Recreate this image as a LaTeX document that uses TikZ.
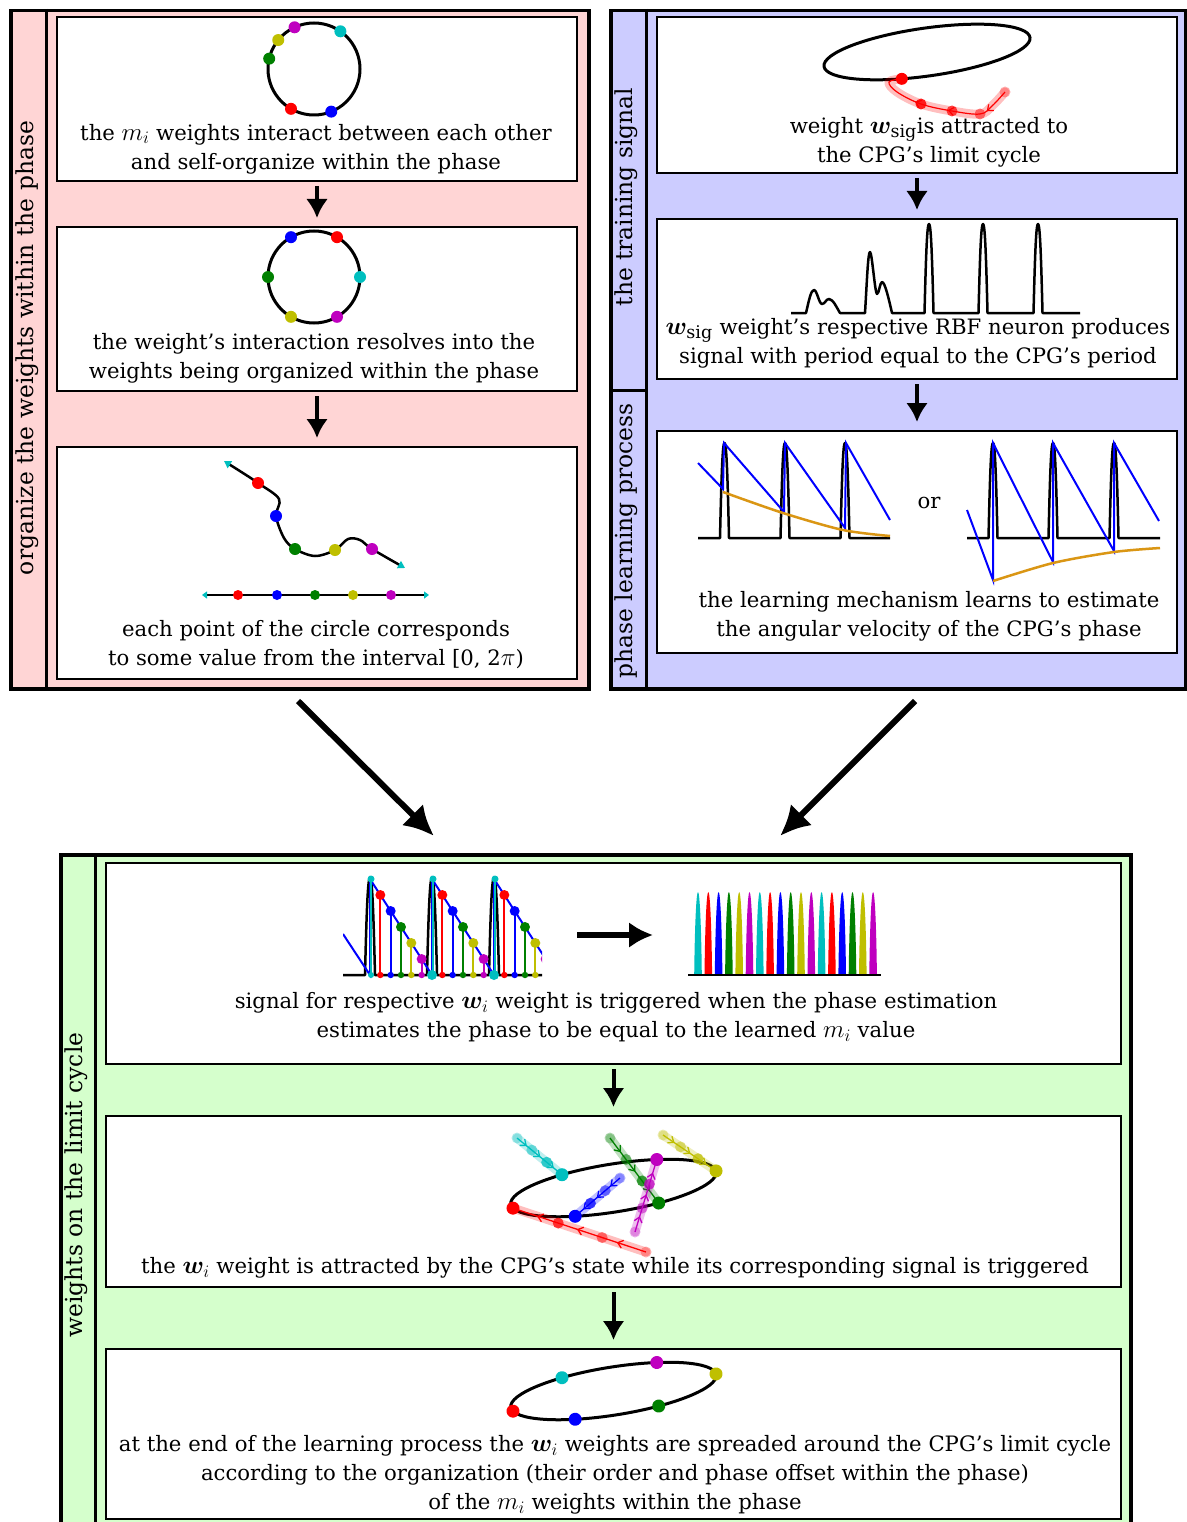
\RequirePackage{fix-cm}
\documentclass[tikz,border=0pt]{standalone}
\usepackage{amsmath}
\usepackage{fontspec}
\setmainfont{DejaVu Serif}
\usepackage{bm}
\usetikzlibrary{arrows.meta,decorations.markings,calc}
\definecolor{cR}{rgb}{1,0,0}
\definecolor{cB}{rgb}{0,0,1}
\definecolor{cG}{rgb}{0,0.5,0}
\definecolor{cY}{rgb}{0.75,0.75,0}
\definecolor{cM}{rgb}{0.75,0,0.75}
\definecolor{cC}{rgb}{0,0.75,0.75}
\definecolor{cO}{RGB}{218,150,20}
\definecolor{bgPink}{RGB}{255,213,213}
\definecolor{bgBlue}{RGB}{204,204,255}
\definecolor{bgGreen}{RGB}{213,255,204}
\newcommand{\mathx}[1]{{\fontsize{25}{29}\selectfont$#1$}}
% spike: x, base, top, half width
\newcommand{\spk}[4]{-- ({#1-#4},#2) .. controls ({#1-0.65*#4},{#3+25}) and ({#1-0.4*#4},#3) .. (#1,#3) .. controls ({#1+0.4*#4},#3) and ({#1+0.65*#4},{#3+25}) .. ({#1+#4},#2)}
% coloured spike: x, top, half width
\newcommand{\cspk}[3]{({#1-#3},975) .. controls ({#1-0.85*#3},925) and ({#1-0.45*#3},#2) .. (#1,#2) .. controls ({#1+0.45*#3},#2) and ({#1+0.85*#3},925) .. ({#1+#3},975) -- cycle}
\newcommand{\trpath}{plot[smooth,tension=0.6] coordinates {(1005,92) (992,106) (980,114) (952,111) (921,104) (897,92) (889,82) (tr0)}}
\newcommand{\traj}[3]{%
  \draw[#1,opacity=0.25,line width=9pt,line cap=round] #2 -- #3;
  \draw[#1,line width=1.3pt,arrmark] #2 -- #3;
  \fill[#1,opacity=0.3] #2 circle (5.5pt);
  \fill[#1,opacity=0.5] ($#2!0.33!#3$) circle (5.5pt);
  \fill[#1,opacity=0.75] ($#2!0.66!#3$) circle (5.5pt);
  \fill[#1] #3 circle (6.5pt);}
\begin{document}
\begin{tikzpicture}[x=1pt,y=-1pt,
  txt/.style={align=center,font=\fontsize{21.2}{29}\selectfont,inner sep=0pt},
  lbl/.style={font=\fontsize{23.4}{29}\selectfont,inner sep=0pt,rotate=90},
  panel/.style={draw,line width=3.5pt,inner sep=0pt,anchor=north west},
  ibox/.style={draw,fill=white,line width=2pt,inner sep=0pt,anchor=north west},
  dnarrow/.style={line width=4pt,-{Latex[length=19pt,width=22pt]},shorten <=4pt,shorten >=8pt},
  bigarrow/.style={line width=6pt,-{Latex[length=30pt,width=30pt]}},
  yup/.style={y=1pt},
  arrmark/.style={decoration={markings,
     mark=at position 0.22 with {\arrow{Straight Barb[length=5pt,width=8pt]}},
     mark=at position 0.52 with {\arrow{Straight Barb[length=5pt,width=8pt]}},
     mark=at position 0.82 with {\arrow{Straight Barb[length=5pt,width=8pt]}}},
     postaction={decorate}},
  curve/.style={line width=3pt},
  sig/.style={line width=2.5pt,line join=round}]
\fill[white] (0,0) rectangle (1186,1522);
\useasboundingbox (0,0) rectangle (1186,1522);

% ---------- panels ----------
\node[panel,fill=bgPink,minimum width=578pt,minimum height=678pt] (PL) at (9,9) {};
\draw[line width=3pt] (46,9) -- (46,687);
\node[panel,fill=bgBlue,minimum width=575pt,minimum height=678pt] (PR) at (609,9) {};
\draw[line width=3pt] (646,9) -- (646,687);
\draw[line width=3pt] (609,390) -- (646,390);
\node[panel,fill=bgGreen,minimum width=1070pt,minimum height=700pt] (PB) at (59,853) {};
\draw[line width=3pt] (95,853) -- (95,1530);

% ---------- inner boxes ----------
\node[ibox,minimum width=520pt,minimum height=164pt] (TL1) at (56,16) {};
\node[ibox,minimum width=520pt,minimum height=164pt] (TL2) at (56,226) {};
\node[ibox,minimum width=520pt,minimum height=232pt] (TL3) at (56,446) {};
\node[ibox,minimum width=520pt,minimum height=156pt] (TR1) at (656,16) {};
\node[ibox,minimum width=520pt,minimum height=160pt] (TR2) at (656,218) {};
\node[ibox,minimum width=520pt,minimum height=222pt] (TR3) at (656,430) {};
\node[ibox,minimum width=1015pt,minimum height=201pt] (B1) at (105,862) {};
\node[ibox,minimum width=1015pt,minimum height=171pt] (B2) at (105,1115) {};
\node[ibox,minimum width=1015pt,minimum height=170pt] (B3) at (105,1348) {};

% ---------- side labels ----------
\node[lbl] (Lorg) at (27,348) {organize the weights within the phase};
\node[lbl] (Ltrain) at (626,197) {the training signal};
\node[lbl] (Lphase) at (626,541) {phase learning process};
\node[lbl] (Llimit) at (76,1185) {weights on the limit cycle};

% ---------- arrows ----------
\draw[dnarrow] (TL1.south) -- (TL2.north);
\draw[dnarrow] (TL2.south) -- (TL3.north);
\draw[dnarrow] (TR1.south) -- (TR2.north);
\draw[dnarrow] (TR2.south) -- (TR3.north);
\draw[dnarrow] (B1.south) -- (B2.north);
\draw[dnarrow] (B2.south) -- (B3.north);
\coordinate (d1s) at (298,701);
\coordinate (d1e) at (434,836);
\coordinate (d2s) at (915,701);
\coordinate (d2e) at (780,836);
\draw[bigarrow] (d1s) -- (d1e);
\draw[bigarrow] (d2s) -- (d2e);

% ---------- TL1: circle ----------
\begin{scope}[shift={(314,69)},yup]
  \draw[curve] (0,0) circle (46pt);
  \fill[cM] (115:46) circle (6pt);
  \fill[cC] (55:46) circle (6pt);
  \fill[cY] (141:46) circle (6pt);
  \fill[cG] (167:46) circle (6pt);
  \fill[cR] (240:46) circle (6pt);
  \fill[cB] (292:46) circle (6pt);
\end{scope}
\node[txt] (t1) at (316,149) {the \mathx{m_i} weights interact between each other\\and self-organize within the phase};

% ---------- TL2: circle ----------
\begin{scope}[shift={(314,277)},yup]
  \draw[curve] (0,0) circle (46pt);
  \fill[cB] (120:46) circle (6pt);
  \fill[cR] (60:46) circle (6pt);
  \fill[cC] (0:46) circle (6pt);
  \fill[cM] (-60:46) circle (6pt);
  \fill[cY] (240:46) circle (6pt);
  \fill[cG] (180:46) circle (6pt);
\end{scope}
\node[txt] (t2) at (314,358) {the weight’s interaction resolves into the\\weights being organized within the phase};

% ---------- TL3: chain ----------
\draw[line width=2.5pt,{Triangle[length=7pt,width=8pt,color=cC]}-{Triangle[length=7pt,width=8pt,color=cC]}]
  plot[smooth,tension=0.55] coordinates {(224,461) (258,483) (279,499) (276,516) (284,538) (295,549) (315,556) (335,550) (348,539) (360,540) (372,549) (405,568)};
\fill[cR] (258,483) circle (6pt);
\fill[cB] (276,516) circle (6pt);
\fill[cG] (295,549) circle (6pt);
\fill[cY] (335,550) circle (6pt);
\fill[cM] (372,549) circle (6pt);
\draw[line width=2.5pt,{Triangle[length=5pt,width=7pt,color=cC]}-{Triangle[length=5pt,width=7pt,color=cC]}] (202,595) -- (429,595);
\foreach \xx/\col in {238/cR,277/cB,315/cG,353/cY,391/cM} {\fill[\col] (\xx,595) circle (5pt);}
\node[txt] (t3) at (316,645) {each point of the circle corresponds\\to some value from the interval [0, 2\mathx{\pi})};

% ---------- TR1: ellipse with trajectory ----------
\begin{scope}[shift={(927,52)},yup,rotate=8]
  \draw[curve] (0,0) ellipse [x radius=104, y radius=24];
  \coordinate (tr0) at (254:104 and 24);
\end{scope}
\draw[cR,opacity=0.25,line width=9pt,line cap=round,line join=round] \trpath;
\draw[cR,line width=1.2pt,decoration={markings,
   mark=at position 0.18 with {\arrow{Straight Barb[length=5pt,width=8pt]}},
   mark=at position 0.45 with {\arrow{Straight Barb[length=5pt,width=8pt]}},
   mark=at position 0.68 with {\arrow{Straight Barb[length=5pt,width=8pt]}}},postaction={decorate}] \trpath;
\fill[cR,opacity=0.3] (1005,92) circle (5.5pt);
\fill[cR,opacity=0.5] (980,114) circle (5.5pt);
\fill[cR,opacity=0.7] (952,111) circle (5.5pt);
\fill[cR,opacity=0.85] (921,104) circle (5.5pt);
\fill[cR] (tr0) circle (6pt);
\node[txt] (t4) at (929,142) {weight \mathx{\bm{w}_{\text{sig}}}is attracted to\\the CPG’s limit cycle};

% ---------- TR2: RBF signal ----------
\draw[sig] (791,313) -- (806,313) .. controls (809,300) and (811,290) .. (814,290)
  .. controls (817,290) and (819,304) .. (822,304) .. controls (825,304) and (826,299) .. (829,299)
  .. controls (833,299) and (837,308) .. (840,313) -- (865,313)
  .. controls (867,280) and (868,252) .. (870,252) .. controls (872,252) and (875,294) .. (877,294)
  .. controls (879,294) and (880,282) .. (882,282) .. controls (885,282) and (889,300) .. (892,313)
  \spk{929}{313}{224}{4.5} \spk{983}{313}{224}{4.5} \spk{1038}{313}{224}{4.5} -- (1080,313);
\node[txt] (t5) at (918,343) {\mathx{\bm{w}_{\text{sig}}} weight’s respective RBF neuron produces\\signal with period equal to the CPG’s period};

% ---------- TR3: phase estimation ----------
\draw[sig] (698,538) \spk{724.5}{538}{443}{4.5} \spk{785}{538}{443}{4.5} \spk{845}{538}{443}{4.5} -- (890,538);
\draw[cB,line width=2pt] (698,463) -- (723,489) -- (724,443) -- (784,512) -- (785,443) -- (845,528) -- (846,443) -- (890,520);
\draw[cO,line width=2.5pt] plot[smooth] coordinates {(723,492) (783,513) (843,530) (890,536)};
\node[txt] (or) at (929,503) {or};
\draw[sig] (967,538) \spk{993}{538}{443}{4.5} \spk{1053}{538}{443}{4.5} \spk{1114}{538}{443}{4.5} -- (1160,538);
\draw[cB,line width=2pt] (967,510) -- (993,580) -- (993,443) -- (1053,562) -- (1053,443) -- (1114,551) -- (1114,443) -- (1159,521);
\draw[cO,line width=2.5pt] plot[smooth] coordinates {(993,581) (1053,563) (1114,552) (1160,548)};
\node[txt] (t6) at (929,616) {the learning mechanism learns to estimate\\the angular velocity of the CPG’s phase};

% ---------- B1: triggering ----------
\begin{scope}
  \clip (343,860) rectangle (542,982);
  \draw[sig] (343,975) \spk{370}{975}{878}{5} \spk{432}{975}{878}{5} \spk{494}{975}{878}{5} -- (542,975);
  \draw[cB,line width=2pt] (343,934) -- (370,975) -- (370,879) -- (432,975) -- (432,879) -- (494,975) -- (494,879) -- (556,975);
  \foreach \k in {0,1,2} {
    \pgfmathsetmacro\xo{370+62*\k}
    \draw[cC,line width=1.8pt] ({\xo+1},879) -- ({\xo+1},975);
    \fill[cC] ({\xo+1},879) circle (3.5pt);
    \fill[cC] ({\xo+1},975) circle (3pt);
    \fill[cC] ({\xo+62},975) circle (5pt);
    \foreach \j/\col in {1/cR,2/cB,3/cG,4/cY,5/cM} {
      \pgfmathsetmacro\xj{\xo+10.33*\j}
      \pgfmathsetmacro\yj{879+16*\j}
      \draw[\col,line width=1.8pt] (\xj,\yj) -- (\xj,975);
      \fill[\col] (\xj,\yj) circle (5pt);
      \fill[\col] (\xj,975) circle (3.2pt);
    }
  }
\end{scope}
\coordinate (h1s) at (577,935);
\coordinate (h1e) at (653,935);
\draw[line width=6pt,-{Latex[length=24pt,width=26pt]}] (h1s) -- (h1e);
\foreach \k/\col in {0/cC,1/cR,2/cB,3/cG,4/cY,5/cM,6/cC,7/cR,8/cB,9/cG,10/cY,11/cM,12/cC,13/cR,14/cB,15/cG,16/cY,17/cM} {
  \pgfmathsetmacro\xx{698+10.3*\k}
  \fill[\col] \cspk{\xx}{892}{3.8};
}
\draw[line width=2.5pt] (688,975) -- (881,975);
\node[txt] (t7) at (616,1017) {signal for respective \mathx{\bm{w}_i} weight is triggered when the phase estimation\\estimates the phase to be equal to the learned \mathx{m_i} value};

% ---------- B2: attraction ----------
\begin{scope}[shift={(613.5,1188)},yup,rotate=9]
  \draw[curve] (0,0) ellipse [x radius=104, y radius=24];
  \coordinate (eR) at (190:104 and 24);
  \coordinate (eB) at (246:104 and 24);
  \coordinate (eG) at (294:104 and 24);
  \coordinate (eY) at (2:104 and 24);
  \coordinate (eM) at (63:104 and 24);
  \coordinate (eC) at (118:104 and 24);
\end{scope}
\traj{cR}{(646,1252)}{(eR)}
\traj{cB}{(620,1178)}{(eB)}
\traj{cG}{(610,1138)}{(eG)}
\traj{cM}{(635,1232)}{(eM)}
\traj{cY}{(663,1135)}{(eY)}
\traj{cC}{(517,1138)}{(eC)}
\node[txt] (t8) at (615,1268) {the \mathx{\bm{w}_i} weight is attracted by the CPG’s state while its corresponding signal is triggered};

% ---------- B3: final ----------
\begin{scope}[shift={(613.5,1391)},yup,rotate=9]
  \draw[curve] (0,0) ellipse [x radius=104, y radius=24];
  \fill[cR] (190:104 and 24) circle (6.5pt);
  \fill[cB] (246:104 and 24) circle (6.5pt);
  \fill[cG] (294:104 and 24) circle (6.5pt);
  \fill[cY] (2:104 and 24) circle (6.5pt);
  \fill[cM] (63:104 and 24) circle (6.5pt);
  \fill[cC] (118:104 and 24) circle (6.5pt);
\end{scope}
\node[txt] (t9) at (615,1475) {at the end of the learning process the \mathx{\bm{w}_i} weights are spreaded around the CPG’s limit cycle\\according to the organization (their order and phase offset within the phase)\\of the \mathx{m_i} weights within the phase};
\end{tikzpicture}
\end{document}
